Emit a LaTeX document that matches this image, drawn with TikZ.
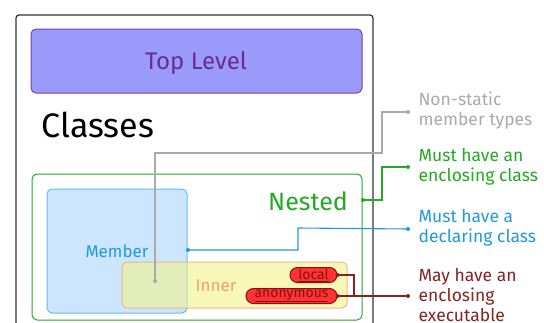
\documentclass[tikz,border=0pt]{standalone}
\usepackage{fontspec}
\setmainfont{Fira Sans}
\definecolor{frame}{HTML}{333333}
\definecolor{tlfill}{HTML}{9A9AFA}
\definecolor{tldraw}{HTML}{7A3FB0}
\definecolor{tltext}{HTML}{6A2C91}
\definecolor{ngreen}{HTML}{22AA22}
\definecolor{mfill}{HTML}{CCE6FF}
\definecolor{mdraw}{HTML}{66BBEE}
\definecolor{mtext}{HTML}{2299DD}
\definecolor{ifill}{HTML}{F2F28C}
\definecolor{idraw}{HTML}{F0B080}
\definecolor{itext}{HTML}{F0A070}
\definecolor{gtext}{HTML}{AAAAAA}
\definecolor{rfill}{HTML}{FF3333}
\definecolor{rdraw}{HTML}{881111}
\definecolor{rtext}{HTML}{882222}
\tikzset{
  box/.style={rounded corners=5pt, line width=1pt},
  pill/.style={rectangle, rounded corners=7.5pt, draw=rdraw, fill=rfill, line width=1pt, inner sep=0pt, minimum height=15pt, font=\fontsize{14}{14}\selectfont, text=rdraw},
  lbl/.style={anchor=west, align=left, font=\fontsize{17.5}{20}\selectfont},
  conn/.style={line width=1.1pt},
  dot/.style={circle, fill, inner sep=0pt, minimum size=4pt},
}
\begin{document}
\begin{tikzpicture}[x=1pt,y=-1pt]
\useasboundingbox (0,0) rectangle (544,322);
\clip (0,0) rectangle (544,322);
\fill[white] (0,0) rectangle (544,322);
% outer frame
\draw[frame, line width=1.2pt, rounded corners=3pt] (16,15) rectangle (373,340);
% top level
\draw[box, draw=tldraw, fill=tlfill] (31,29) rectangle (362,93);
\node[text=tltext, font=\fontsize{24}{24}\selectfont] (top) at (196,63) {Top Level};
\node[anchor=base west, font=\fontsize{34}{34}\selectfont] (classes) at (38,137) {Classes};
% nested
\draw[box, draw=ngreen, fill=white] (32,174) rectangle (362,320);
\coordinate (nestR) at (363,200);
\node[text=ngreen, font=\fontsize{25}{25}\selectfont] (nested) at (308,201) {Nested};
% member
\draw[box, draw=mdraw, fill=mfill] (47,189) rectangle (187,313);
\node[text=mtext, font=\fontsize{17}{17}\selectfont] (member) at (117,251) {Member};
\coordinate (memR) at (188,250);
% inner
\draw[box, draw=idraw, fill=ifill, fill opacity=0.6, draw opacity=0.9] (122,262) rectangle (347,308);
\node[text=itext, font=\fontsize{17}{17}\selectfont] (inner) at (216,286) {Inner};
\node[pill, minimum width=47pt] (local) at (313.5,275) {\underline{local}};
\node[pill, minimum width=91pt] (anon) at (291.5,296) {\underline{anonymous}};
% labels
\node[lbl, text=gtext] (l1) at (415,111) {Non-static\\member types};
\node[lbl, text=ngreen] (l2) at (415,167) {Must have an\\enclosing class};
\node[lbl, text=mtext] (l3) at (415,228) {Must have a\\declaring class};
\node[lbl, text=rtext, anchor=north west] (l4) at (415,265) {May have an\\enclosing\\executable};
% connectors
\coordinate (gsrc) at (155,281);
\coordinate (gdst) at (408,112);
\draw[conn, gtext] (gsrc) -- (155,153) -- (382,153) -- (382,112) -- (gdst);
\node[dot, gtext] at (gsrc) {};
\node[dot, gtext] at (gdst) {};
\coordinate (ndst) at (408,167);
\draw[conn, ngreen] (nestR) -- (382,200) -- (382,167) -- (ndst);
\node[dot, ngreen] at (nestR) {};
\node[dot, ngreen] at (ndst) {};
\coordinate (mdst) at (408,229);
\draw[conn, mtext] (memR) -- (298,250) -- (298,228) -- (mdst);
\node[dot, mtext] at (memR) {};
\node[dot, mtext] at (mdst) {};
\coordinate (rdst) at (408,296);
\draw[conn, rtext] (local.east) -- (354,275) -- (354,296);
\draw[conn, rtext] (anon.east) -- (rdst);
\node[dot, rtext] at (local.east) {};
\node[dot, rtext] at (anon.east) {};
\node[dot, rtext] at (rdst) {};
\end{tikzpicture}
\end{document}
